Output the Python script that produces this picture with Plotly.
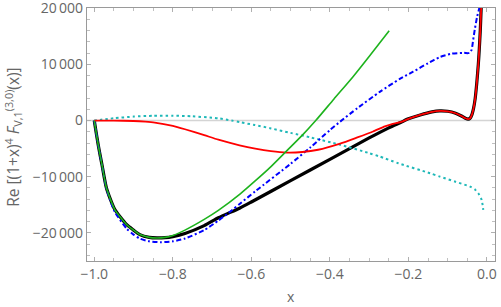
import plotly.graph_objects as go

# ---- data ----
x_black = [-1.0, -0.995, -0.99, -0.985, -0.98, -0.969, -0.948, -0.918, -0.9, -0.884, -0.86, -0.84,
           -0.82, -0.80, -0.769, -0.72, -0.684, -0.63, -0.6, -0.5, -0.4, -0.3, -0.25, -0.22, -0.2,
           -0.17, -0.14, -0.12, -0.10, -0.08, -0.065, -0.055, -0.048, -0.043, -0.038, -0.034,
           -0.030, -0.026, -0.022, -0.0196, -0.017, -0.015, -0.0135]
y_black = [0, -2200, -4300, -6200, -8000, -12000, -15800, -18500, -19500, -20300, -20800, -20900,
           -20850, -20650, -20100, -18700, -17300, -15600, -14500, -10700, -6900, -3100, -1300, -350, 300,
           1000, 1550, 1730, 1650, 1300, 800, 400, 250, 400, 1100, 2200,
           3900, 6600, 10000, 12600, 16000, 19500, 22500]

x_red = [-1.0, -0.95, -0.9, -0.87, -0.846, -0.8, -0.769, -0.72, -0.684, -0.63, -0.59, -0.55,
         -0.51, -0.47, -0.43, -0.374, -0.33, -0.29, -0.26, -0.24, -0.22, -0.2,
         -0.17, -0.14, -0.12, -0.10, -0.08, -0.065, -0.055, -0.048, -0.043, -0.038, -0.034,
         -0.030, -0.026, -0.022, -0.0196, -0.017, -0.015, -0.0135]
y_red = [0, -10, -80, -200, -356, -950, -1550, -2600, -3400, -4400, -5000, -5450,
         -5700, -5600, -5200, -4100, -3000, -1950, -1050, -600, -300, 300,
         1000, 1550, 1730, 1650, 1300, 800, 400, 250, 400, 1100, 2200,
         3900, 6600, 10000, 12600, 16000, 19500, 22500]

x_green = [-1.0, -0.995, -0.99, -0.985, -0.98, -0.969, -0.948, -0.918, -0.9, -0.884, -0.86, -0.84,
           -0.82, -0.80, -0.769, -0.72, -0.684, -0.629, -0.591, -0.55, -0.51, -0.47, -0.436, -0.39,
           -0.341, -0.30, -0.249]
y_green = [0, -2200, -4300, -6200, -8000, -12000, -15800, -18500, -19500, -20300, -20800, -20900,
           -20800, -20450, -19500, -17600, -16000, -13100, -10800, -8200, -5400, -2600, 0, 3800,
           7800, 11400, 16000]

x_blue = [-1.0, -0.995, -0.99, -0.98, -0.969, -0.948, -0.918, -0.9, -0.884, -0.86, -0.83, -0.80,
          -0.769, -0.72, -0.684, -0.65, -0.629, -0.59, -0.5, -0.45, -0.4, -0.374, -0.33,
          -0.273, -0.222, -0.188, -0.15, -0.12, -0.09, -0.06, -0.048, -0.043, -0.039,
          -0.035, -0.031, -0.025, -0.0196, -0.017]
y_blue = [0, -2200, -4300, -8100, -12100, -16200, -19200, -20300, -21000, -21500, -21650, -21500,
          -21000, -19500, -17800, -16000, -14800, -12600, -7700, -4800, -1700, -200, 2200,
          5100, 7400, 8700, 10200, 11300, 11900, 12050, 12000, 12100, 12600,
          14400, 16200, 18500, 20000, 21000]

x_cyan = [-1.0, -0.95, -0.9, -0.85, -0.8, -0.75, -0.7, -0.684, -0.65, -0.629, -0.591, -0.55,
          -0.5, -0.45, -0.374, -0.3, -0.273, -0.226, -0.145, -0.12, -0.08, -0.043, -0.03,
          -0.022, -0.0135, -0.0094]
y_cyan = [0, 400, 700, 850, 870, 750, 500, 400, 0, -300, -800, -1400,
          -2200, -3000, -4300, -5800, -6400, -7600, -9380, -9980, -10900, -11760, -12300,
          -12940, -14130, -15900]

x_tickvals = [-1.0, -0.8, -0.6, -0.4, -0.2, 0.0]
x_ticktext = ["\u22121.0", "\u22120.8", "\u22120.6", "\u22120.4", "\u22120.2", "0.0"]
y_tickvals = [-20000, -10000, 0, 10000, 20000]
y_ticktext = ["\u221220\u2009000", "\u221210\u2009000", "0", "10\u2009000", "20\u2009000"]

fig = go.Figure()

# zero line
fig.add_trace(go.Scatter(x=[-1.02, 0.02], y=[0, 0], mode="lines",
                         line=dict(color="#d4d4d4", width=1.5), hoverinfo="skip"))
fig.add_trace(go.Scatter(x=x_black, y=y_black, mode="lines", line_shape="spline",
                         line=dict(color="#000000", width=3.2, smoothing=0.6)))
fig.add_trace(go.Scatter(x=x_cyan, y=y_cyan, mode="lines", line_shape="spline",
                         line=dict(color="#1fb8b8", width=2, dash="2.5px,3px", smoothing=0.6)))
fig.add_trace(go.Scatter(x=x_blue, y=y_blue, mode="lines", line_shape="spline",
                         line=dict(color="#0000ff", width=2, dash="5px,2.5px,2px,2.5px", smoothing=0.6)))
fig.add_trace(go.Scatter(x=x_red, y=y_red, mode="lines", line_shape="spline",
                         line=dict(color="#ff0000", width=1.8, smoothing=0.6)))
fig.add_trace(go.Scatter(x=x_green, y=y_green, mode="lines", line_shape="spline",
                         line=dict(color="#1db31d", width=1.6, smoothing=0.6)))

FONT = "Open Sans"
axis_common = dict(showgrid=False, zeroline=False, showline=True, linecolor="#9a9a9a",
                   linewidth=1.2, mirror="ticks", ticks="inside", ticklen=4,
                   tickcolor="#b0b0b0", tickwidth=1, ticklabeloverflow="allow",
                   tickfont=dict(family=FONT, size=14, color="#666666"))

fig.update_xaxes(range=[-1.0185, 0.0205], tickvals=x_tickvals, ticktext=x_ticktext,
                 minor=dict(dtick=0.05, tick0=0, ticks="inside", ticklen=2.5,
                            tickcolor="#c0c0c0", showgrid=False),
                 **axis_common)
fig.update_yaxes(range=[-25000, 20030], tickvals=y_tickvals, ticktext=y_ticktext,
                 minor=dict(dtick=2000, tick0=0, ticks="inside", ticklen=2.5,
                            tickcolor="#c0c0c0", showgrid=False),
                 **axis_common)

SS = "font-size:12.5px"
ytitle = ("Re [(1+x)<sup style='" + SS + "'>4</sup> <i>F</i><sub style='" + SS + "'>V,1</sub>"
          "<sup style='" + SS + "'>(3,0)</sup>(x)]")
fig.add_annotation(text=ytitle, xref="paper", yref="paper", x=-0.182, y=0.49,
                   xanchor="center", yanchor="middle", textangle=-90, showarrow=False,
                   font=dict(family=FONT, size=15.5, color="#666666"))
fig.add_annotation(text="x", xref="paper", yref="paper", x=0.5, y=-0.142,
                   xanchor="center", yanchor="middle", showarrow=False,
                   font=dict(family=FONT, size=14, color="#666666"))

fig.update_layout(width=501, height=307, showlegend=False,
                  margin=dict(l=87, r=6, t=8, b=46, autoexpand=False),
                  paper_bgcolor="white", plot_bgcolor="white")

fig.write_html("out.html", config={"displayModeBar": False},
               post_script="document.body.style.margin='0';")
